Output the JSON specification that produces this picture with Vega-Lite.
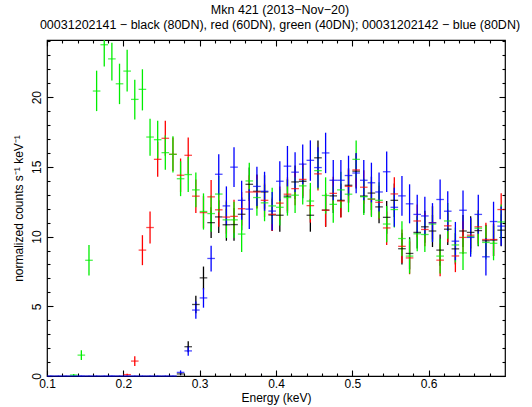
{
"$schema":"https://vega.github.io/schema/vega-lite/v6.json",
"width":458,"height":336,
"autosize":{"type":"none"},
"padding":{"left":47,"top":40,"right":27,"bottom":31},
"title":{"text":"Mkn 421 (2013−Nov−20)","subtitle":"00031202141 − black (80DN), red (60DN), green (40DN); 00031202142 − blue (80DN)","font":"Liberation Sans","fontSize":12.5,"fontWeight":"normal","color":"black","subtitleFont":"Liberation Sans","subtitleFontSize":12.5,"subtitleColor":"black","anchor":"middle","offset":8,"subtitlePadding":2,"dx":4},
"config":{"view":{"stroke":"black","strokeWidth":1.2},"axis":{"grid":false,"domain":false,"labelFlush":false,"labelFont":"Liberation Sans","titleFont":"Liberation Sans","labelColor":"black","titleColor":"black","tickColor":"black","labelFontSize":12,"titleFontSize":12,"titleFontWeight":"normal","tickWidth":1.1}},
"data":{"values":[
{"s":"black","x":0.275,"y":0.15,"lo":0.05,"hi":0.25},
{"s":"black","x":0.285,"y":2.1,"lo":1.7,"hi":2.5},
{"s":"black","x":0.295,"y":5.13,"lo":4.5,"hi":5.75},
{"s":"black","x":0.305,"y":7.04,"lo":6.2,"hi":7.85},
{"s":"black","x":0.315,"y":11.0,"lo":9.9,"hi":12.1},
{"s":"black","x":0.325,"y":11.41,"lo":10.25,"hi":12.6},
{"s":"black","x":0.335,"y":10.85,"lo":9.7,"hi":12.0},
{"s":"black","x":0.345,"y":10.86,"lo":9.7,"hi":12.05},
{"s":"black","x":0.355,"y":11.6,"lo":10.45,"hi":12.8},
{"s":"black","x":0.365,"y":13.75,"lo":12.55,"hi":14.95},
{"s":"black","x":0.375,"y":13.25,"lo":12.05,"hi":14.45},
{"s":"black","x":0.385,"y":13.2,"lo":12.0,"hi":14.4},
{"s":"black","x":0.395,"y":11.55,"lo":10.4,"hi":12.7},
{"s":"black","x":0.405,"y":11.53,"lo":10.35,"hi":12.7},
{"s":"black","x":0.415,"y":12.9,"lo":11.7,"hi":14.1},
{"s":"black","x":0.425,"y":13.92,"lo":12.7,"hi":15.1},
{"s":"black","x":0.435,"y":13.97,"lo":12.75,"hi":15.2},
{"s":"black","x":0.445,"y":11.53,"lo":10.35,"hi":12.7},
{"s":"black","x":0.455,"y":15.65,"lo":14.4,"hi":16.9},
{"s":"black","x":0.465,"y":11.9,"lo":10.7,"hi":13.1},
{"s":"black","x":0.475,"y":12.92,"lo":11.7,"hi":14.1},
{"s":"black","x":0.485,"y":12.6,"lo":11.4,"hi":13.8},
{"s":"black","x":0.495,"y":13.68,"lo":12.45,"hi":14.9},
{"s":"black","x":0.505,"y":14.69,"lo":13.45,"hi":15.9},
{"s":"black","x":0.515,"y":12.91,"lo":11.7,"hi":14.1},
{"s":"black","x":0.525,"y":13.12,"lo":11.9,"hi":14.3},
{"s":"black","x":0.535,"y":12.13,"lo":10.95,"hi":13.3},
{"s":"black","x":0.545,"y":11.38,"lo":10.2,"hi":12.55},
{"s":"black","x":0.555,"y":12.6,"lo":11.4,"hi":13.8},
{"s":"black","x":0.565,"y":9.13,"lo":8.0,"hi":10.25},
{"s":"black","x":0.575,"y":8.79,"lo":7.65,"hi":9.95},
{"s":"black","x":0.585,"y":10.3,"lo":9.15,"hi":11.45},
{"s":"black","x":0.595,"y":10.7,"lo":9.55,"hi":11.85},
{"s":"black","x":0.605,"y":10.4,"lo":9.25,"hi":11.55},
{"s":"black","x":0.615,"y":9.03,"lo":7.9,"hi":10.15},
{"s":"black","x":0.625,"y":10.53,"lo":9.4,"hi":11.7},
{"s":"black","x":0.635,"y":9.12,"lo":8.0,"hi":10.25},
{"s":"black","x":0.645,"y":10.4,"lo":9.25,"hi":11.55},
{"s":"black","x":0.655,"y":10.3,"lo":9.15,"hi":11.45},
{"s":"black","x":0.665,"y":10.43,"lo":9.3,"hi":11.6},
{"s":"black","x":0.675,"y":9.7,"lo":8.55,"hi":10.85},
{"s":"black","x":0.685,"y":9.75,"lo":8.6,"hi":10.9},
{"s":"black","x":0.695,"y":10.46,"lo":9.3,"hi":11.6},
{"s":"red","x":0.205,"y":0.1,"lo":0.03,"hi":0.17},
{"s":"red","x":0.215,"y":1.07,"lo":0.72,"hi":1.42},
{"s":"red","x":0.225,"y":9.03,"lo":7.95,"hi":10.1},
{"s":"red","x":0.235,"y":10.65,"lo":9.5,"hi":11.8},
{"s":"red","x":0.245,"y":15.54,"lo":14.3,"hi":16.8},
{"s":"red","x":0.255,"y":17.05,"lo":15.8,"hi":18.3},
{"s":"red","x":0.265,"y":15.9,"lo":14.7,"hi":17.1},
{"s":"red","x":0.275,"y":14.4,"lo":13.2,"hi":15.6},
{"s":"red","x":0.285,"y":15.83,"lo":14.5,"hi":17.1},
{"s":"red","x":0.295,"y":12.9,"lo":11.7,"hi":14.1},
{"s":"red","x":0.305,"y":11.72,"lo":10.6,"hi":12.9},
{"s":"red","x":0.315,"y":12.85,"lo":11.65,"hi":14.05},
{"s":"red","x":0.325,"y":11.92,"lo":10.7,"hi":13.1},
{"s":"red","x":0.335,"y":11.4,"lo":10.2,"hi":12.6},
{"s":"red","x":0.345,"y":11.45,"lo":10.25,"hi":12.65},
{"s":"red","x":0.355,"y":12.0,"lo":10.8,"hi":13.2},
{"s":"red","x":0.365,"y":13.2,"lo":12.0,"hi":14.4},
{"s":"red","x":0.375,"y":13.2,"lo":12.0,"hi":14.4},
{"s":"red","x":0.385,"y":12.6,"lo":11.4,"hi":13.8},
{"s":"red","x":0.395,"y":11.6,"lo":10.4,"hi":12.8},
{"s":"red","x":0.405,"y":12.4,"lo":11.2,"hi":13.6},
{"s":"red","x":0.415,"y":13.04,"lo":11.85,"hi":14.25},
{"s":"red","x":0.425,"y":13.44,"lo":12.25,"hi":14.65},
{"s":"red","x":0.435,"y":14.1,"lo":12.9,"hi":15.3},
{"s":"red","x":0.445,"y":12.22,"lo":11.0,"hi":13.4},
{"s":"red","x":0.455,"y":14.5,"lo":13.3,"hi":15.7},
{"s":"red","x":0.465,"y":11.89,"lo":10.7,"hi":13.1},
{"s":"red","x":0.475,"y":13.1,"lo":11.9,"hi":14.3},
{"s":"red","x":0.485,"y":12.55,"lo":11.35,"hi":13.75},
{"s":"red","x":0.495,"y":13.6,"lo":12.4,"hi":14.8},
{"s":"red","x":0.505,"y":14.78,"lo":13.55,"hi":16.0},
{"s":"red","x":0.515,"y":13.54,"lo":12.35,"hi":14.75},
{"s":"red","x":0.525,"y":12.68,"lo":11.5,"hi":13.9},
{"s":"red","x":0.535,"y":12.46,"lo":11.25,"hi":13.65},
{"s":"red","x":0.545,"y":10.62,"lo":9.4,"hi":11.8},
{"s":"red","x":0.555,"y":13.06,"lo":11.85,"hi":14.25},
{"s":"red","x":0.565,"y":9.3,"lo":8.1,"hi":10.5},
{"s":"red","x":0.575,"y":8.47,"lo":7.3,"hi":9.65},
{"s":"red","x":0.585,"y":11.12,"lo":9.95,"hi":12.3},
{"s":"red","x":0.595,"y":10.51,"lo":9.3,"hi":11.7},
{"s":"red","x":0.605,"y":11.0,"lo":9.8,"hi":12.2},
{"s":"red","x":0.615,"y":8.31,"lo":7.15,"hi":9.5},
{"s":"red","x":0.625,"y":10.77,"lo":9.6,"hi":11.95},
{"s":"red","x":0.635,"y":8.61,"lo":7.45,"hi":9.8},
{"s":"red","x":0.645,"y":9.94,"lo":8.75,"hi":11.1},
{"s":"red","x":0.655,"y":10.1,"lo":8.9,"hi":11.3},
{"s":"red","x":0.665,"y":10.7,"lo":9.5,"hi":11.9},
{"s":"red","x":0.675,"y":9.79,"lo":8.6,"hi":11.0},
{"s":"red","x":0.685,"y":9.79,"lo":8.6,"hi":11.0},
{"s":"red","x":0.695,"y":11.94,"lo":10.75,"hi":13.1},
{"s":"green","x":0.135,"y":0.07,"lo":0.0,"hi":0.15},
{"s":"green","x":0.145,"y":1.5,"lo":1.15,"hi":1.85},
{"s":"green","x":0.155,"y":8.3,"lo":7.2,"hi":9.4},
{"s":"green","x":0.165,"y":20.44,"lo":19.0,"hi":21.9},
{"s":"green","x":0.175,"y":23.76,"lo":22.2,"hi":25.3},
{"s":"green","x":0.185,"y":22.75,"lo":21.2,"hi":23.9},
{"s":"green","x":0.195,"y":20.96,"lo":19.5,"hi":22.4},
{"s":"green","x":0.205,"y":21.87,"lo":20.4,"hi":23.4},
{"s":"green","x":0.215,"y":19.84,"lo":18.4,"hi":21.25},
{"s":"green","x":0.225,"y":20.56,"lo":19.05,"hi":22.0},
{"s":"green","x":0.235,"y":17.14,"lo":15.8,"hi":18.45},
{"s":"green","x":0.245,"y":16.95,"lo":15.6,"hi":18.3},
{"s":"green","x":0.255,"y":16.02,"lo":14.8,"hi":17.25},
{"s":"green","x":0.265,"y":15.9,"lo":14.6,"hi":17.2},
{"s":"green","x":0.275,"y":14.15,"lo":12.9,"hi":15.4},
{"s":"green","x":0.285,"y":14.45,"lo":13.2,"hi":15.7},
{"s":"green","x":0.295,"y":13.35,"lo":12.1,"hi":14.6},
{"s":"green","x":0.305,"y":11.8,"lo":10.5,"hi":13.1},
{"s":"green","x":0.315,"y":11.65,"lo":10.35,"hi":12.95},
{"s":"green","x":0.325,"y":13.05,"lo":11.75,"hi":14.35},
{"s":"green","x":0.335,"y":11.2,"lo":9.9,"hi":12.5},
{"s":"green","x":0.345,"y":11.2,"lo":9.9,"hi":12.5},
{"s":"green","x":0.355,"y":10.18,"lo":8.9,"hi":11.45},
{"s":"green","x":0.365,"y":13.99,"lo":12.7,"hi":15.3},
{"s":"green","x":0.375,"y":12.8,"lo":11.5,"hi":14.1},
{"s":"green","x":0.385,"y":12.42,"lo":11.1,"hi":13.7},
{"s":"green","x":0.395,"y":12.2,"lo":10.9,"hi":13.5},
{"s":"green","x":0.405,"y":12.1,"lo":10.8,"hi":13.4},
{"s":"green","x":0.415,"y":12.8,"lo":11.5,"hi":14.1},
{"s":"green","x":0.425,"y":12.97,"lo":11.7,"hi":14.25},
{"s":"green","x":0.435,"y":13.63,"lo":12.3,"hi":14.95},
{"s":"green","x":0.445,"y":12.55,"lo":11.25,"hi":13.85},
{"s":"green","x":0.455,"y":14.73,"lo":13.4,"hi":16.05},
{"s":"green","x":0.465,"y":12.95,"lo":11.65,"hi":14.25},
{"s":"green","x":0.475,"y":12.31,"lo":11.0,"hi":13.6},
{"s":"green","x":0.485,"y":13.35,"lo":12.05,"hi":14.65},
{"s":"green","x":0.495,"y":13.04,"lo":11.75,"hi":14.35},
{"s":"green","x":0.505,"y":15.54,"lo":14.2,"hi":16.9},
{"s":"green","x":0.515,"y":12.86,"lo":11.55,"hi":14.15},
{"s":"green","x":0.525,"y":12.7,"lo":11.4,"hi":14.0},
{"s":"green","x":0.535,"y":12.6,"lo":11.3,"hi":13.9},
{"s":"green","x":0.545,"y":10.9,"lo":9.6,"hi":12.2},
{"s":"green","x":0.555,"y":11.94,"lo":10.65,"hi":13.25},
{"s":"green","x":0.565,"y":9.86,"lo":8.6,"hi":11.1},
{"s":"green","x":0.575,"y":8.6,"lo":7.35,"hi":9.85},
{"s":"green","x":0.585,"y":10.2,"lo":8.95,"hi":11.45},
{"s":"green","x":0.595,"y":10.15,"lo":8.9,"hi":11.4},
{"s":"green","x":0.605,"y":10.9,"lo":9.65,"hi":12.15},
{"s":"green","x":0.615,"y":8.6,"lo":7.35,"hi":9.85},
{"s":"green","x":0.625,"y":11.12,"lo":9.85,"hi":12.4},
{"s":"green","x":0.635,"y":9.4,"lo":8.15,"hi":10.65},
{"s":"green","x":0.645,"y":8.83,"lo":7.6,"hi":10.05},
{"s":"green","x":0.655,"y":10.0,"lo":8.75,"hi":11.25},
{"s":"green","x":0.665,"y":10.6,"lo":9.35,"hi":11.85},
{"s":"green","x":0.675,"y":9.58,"lo":8.35,"hi":10.8},
{"s":"green","x":0.685,"y":9.52,"lo":8.3,"hi":10.75},
{"s":"green","x":0.695,"y":11.05,"lo":9.8,"hi":12.3},
{"s":"blue","x":0.105,"y":0,"lo":0,"hi":0.02},
{"s":"blue","x":0.115,"y":0,"lo":0,"hi":0.02},
{"s":"blue","x":0.125,"y":0,"lo":0,"hi":0.02},
{"s":"blue","x":0.135,"y":0,"lo":0,"hi":0.02},
{"s":"blue","x":0.145,"y":0,"lo":0,"hi":0.02},
{"s":"blue","x":0.155,"y":0,"lo":0,"hi":0.02},
{"s":"blue","x":0.165,"y":0,"lo":0,"hi":0.02},
{"s":"blue","x":0.175,"y":0,"lo":0,"hi":0.02},
{"s":"blue","x":0.185,"y":0,"lo":0,"hi":0.02},
{"s":"blue","x":0.195,"y":0,"lo":0,"hi":0.02},
{"s":"blue","x":0.205,"y":0,"lo":0,"hi":0.02},
{"s":"blue","x":0.215,"y":0,"lo":0,"hi":0.02},
{"s":"blue","x":0.225,"y":0,"lo":0,"hi":0.02},
{"s":"blue","x":0.235,"y":0,"lo":0,"hi":0.02},
{"s":"blue","x":0.245,"y":0,"lo":0,"hi":0.02},
{"s":"blue","x":0.255,"y":0,"lo":0,"hi":0.02},
{"s":"blue","x":0.265,"y":0,"lo":0,"hi":0.02},
{"s":"blue","x":0.275,"y":0.26,"lo":0.12,"hi":0.4},
{"s":"blue","x":0.285,"y":1.8,"lo":1.45,"hi":2.15},
{"s":"blue","x":0.295,"y":4.73,"lo":4.1,"hi":5.35},
{"s":"blue","x":0.305,"y":5.6,"lo":4.9,"hi":6.3},
{"s":"blue","x":0.315,"y":8.43,"lo":7.5,"hi":9.35},
{"s":"blue","x":0.325,"y":14.47,"lo":13.0,"hi":15.9},
{"s":"blue","x":0.335,"y":12.2,"lo":10.8,"hi":13.6},
{"s":"blue","x":0.345,"y":14.98,"lo":13.55,"hi":16.4},
{"s":"blue","x":0.355,"y":12.6,"lo":11.2,"hi":14.0},
{"s":"blue","x":0.365,"y":11.97,"lo":10.55,"hi":13.4},
{"s":"blue","x":0.375,"y":13.6,"lo":12.2,"hi":15.0},
{"s":"blue","x":0.385,"y":13.25,"lo":11.85,"hi":14.65},
{"s":"blue","x":0.395,"y":11.83,"lo":10.45,"hi":13.2},
{"s":"blue","x":0.405,"y":13.97,"lo":12.55,"hi":15.4},
{"s":"blue","x":0.415,"y":15.05,"lo":13.6,"hi":16.5},
{"s":"blue","x":0.425,"y":14.62,"lo":13.2,"hi":16.05},
{"s":"blue","x":0.435,"y":15.19,"lo":13.75,"hi":16.6},
{"s":"blue","x":0.445,"y":15.47,"lo":14.0,"hi":16.9},
{"s":"blue","x":0.455,"y":14.95,"lo":13.5,"hi":16.4},
{"s":"blue","x":0.465,"y":16.0,"lo":14.55,"hi":17.45},
{"s":"blue","x":0.475,"y":14.04,"lo":12.6,"hi":15.5},
{"s":"blue","x":0.485,"y":14.04,"lo":12.6,"hi":15.5},
{"s":"blue","x":0.495,"y":14.38,"lo":12.95,"hi":15.8},
{"s":"blue","x":0.505,"y":14.56,"lo":13.1,"hi":16.0},
{"s":"blue","x":0.515,"y":14.04,"lo":12.6,"hi":15.5},
{"s":"blue","x":0.525,"y":13.86,"lo":12.45,"hi":15.3},
{"s":"blue","x":0.535,"y":13.2,"lo":11.8,"hi":14.6},
{"s":"blue","x":0.545,"y":14.65,"lo":13.2,"hi":16.1},
{"s":"blue","x":0.555,"y":12.1,"lo":10.7,"hi":13.5},
{"s":"blue","x":0.565,"y":12.92,"lo":11.5,"hi":14.35},
{"s":"blue","x":0.575,"y":12.35,"lo":10.95,"hi":13.75},
{"s":"blue","x":0.585,"y":11.59,"lo":10.2,"hi":13.0},
{"s":"blue","x":0.595,"y":11.48,"lo":10.1,"hi":12.85},
{"s":"blue","x":0.605,"y":10.99,"lo":9.6,"hi":12.4},
{"s":"blue","x":0.615,"y":12.66,"lo":11.25,"hi":14.1},
{"s":"blue","x":0.625,"y":11.82,"lo":10.4,"hi":13.25},
{"s":"blue","x":0.635,"y":9.67,"lo":8.3,"hi":11.05},
{"s":"blue","x":0.645,"y":11.89,"lo":10.5,"hi":13.3},
{"s":"blue","x":0.655,"y":9.94,"lo":8.55,"hi":11.35},
{"s":"blue","x":0.665,"y":11.59,"lo":10.2,"hi":13.0},
{"s":"blue","x":0.675,"y":8.55,"lo":7.2,"hi":9.9},
{"s":"blue","x":0.685,"y":11.08,"lo":9.7,"hi":12.5},
{"s":"blue","x":0.695,"y":10.75,"lo":9.35,"hi":12.15}
]},
"layer":[
{"mark":{"type":"rule","strokeWidth":1.3,"clip":true},
 "encoding":{
  "x":{"field":"x","type":"quantitative","scale":{"domain":[0.1,0.7],"nice":false,"zero":false},
   "axis":{"orient":"bottom","values":[0.1,0.2,0.3,0.4,0.5,0.6],"format":".1f","offset":-6,"tickSize":6,"labelPadding":2,"title":"Energy (keV)","titlePadding":3}},
  "y":{"field":"lo","type":"quantitative","scale":{"domain":[0,24.1],"nice":false,"zero":false},
   "axis":{"orient":"left","values":[0,5,10,15,20],"offset":-6,"tickSize":6,"labelPadding":4,"labelAngle":-90,"title":"normalized counts s⁻¹ keV⁻¹","titlePadding":5}},
  "y2":{"field":"hi"},
  "color":{"field":"s","type":"nominal","scale":{"domain":["black","red","green","blue"],"range":["#000000","#ff0000","#00ee00","#0000ff"]},"legend":null}}},
{"mark":{"type":"tick","orient":"horizontal","size":7.6,"thickness":1.3,"clip":false},
 "encoding":{
  "x":{"field":"x","type":"quantitative","axis":{"orient":"bottom","values":[0.12,0.14,0.16,0.18,0.22,0.24,0.26,0.28,0.32,0.34,0.36,0.38,0.42,0.44,0.46,0.48,0.52,0.54,0.56,0.58,0.62,0.64,0.66,0.68],"offset":-3,"tickSize":3,"labels":false,"title":null}},
  "y":{"field":"y","type":"quantitative","axis":{"orient":"left","values":[1,2,3,4,6,7,8,9,11,12,13,14,16,17,18,19,21,22,23,24],"offset":-3,"tickSize":3,"labels":false,"title":null}},
  "color":{"field":"s","type":"nominal","legend":null}}},
{"mark":{"type":"point","opacity":0},
 "encoding":{
  "x":{"field":"x","type":"quantitative","axis":{"orient":"top","values":[0.1,0.2,0.3,0.4,0.5,0.6],"offset":-6,"tickSize":6,"labels":false,"title":null}},
  "y":{"field":"y","type":"quantitative","axis":{"orient":"right","values":[0,5,10,15,20],"offset":-6,"tickSize":6,"labels":false,"title":null}}}},
{"mark":{"type":"point","opacity":0},
 "encoding":{
  "x":{"field":"x","type":"quantitative","axis":{"orient":"top","values":[0.12,0.14,0.16,0.18,0.22,0.24,0.26,0.28,0.32,0.34,0.36,0.38,0.42,0.44,0.46,0.48,0.52,0.54,0.56,0.58,0.62,0.64,0.66,0.68],"offset":-3,"tickSize":3,"labels":false,"title":null}},
  "y":{"field":"y","type":"quantitative","axis":{"orient":"right","values":[1,2,3,4,6,7,8,9,11,12,13,14,16,17,18,19,21,22,23,24],"offset":-3,"tickSize":3,"labels":false,"title":null}}}}
],
"resolve":{"axis":{"x":"independent","y":"independent"}}
}
